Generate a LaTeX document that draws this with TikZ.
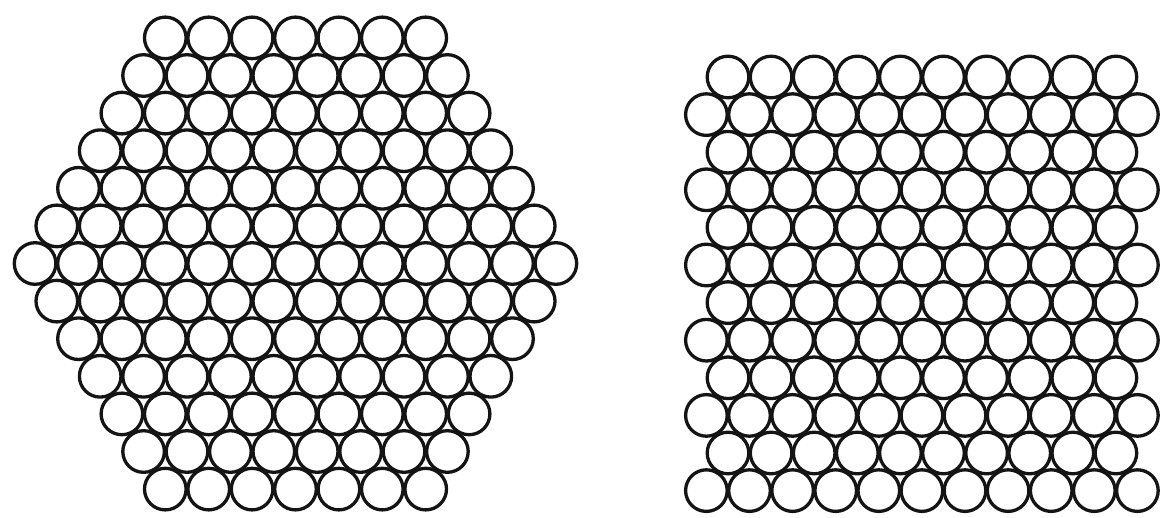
\documentclass[tikz,border=0pt]{standalone}
\usetikzlibrary{calc}
\definecolor{packInk}{HTML}{141414}
\definecolor{packPaper}{HTML}{FFFFFF}

\begin{document}
\begin{tikzpicture}[x=1pt,y=-1pt,line cap=round,line join=round]
\tikzset{ball/.style={draw=packInk,line width=3.3pt,fill=packPaper}}
\path[fill=packPaper] (0,0) rectangle (1161,517);
% hexagonal bundle
\foreach \r in {-6,...,6}{
  \pgfmathtruncatemacro\n{12-abs(\r)}
  \foreach \k in {0,...,\n}{
    \draw[ball] ({295.5+(\k-\n/2)*43.4},{263.5+\r*37.6}) circle (20.8);
  }
}
% rectangular bundle
\foreach \j in {0,...,11}{
  \pgfmathtruncatemacro\m{9+mod(\j,2)}
  \pgfmathsetmacro\xa{728-mod(\j,2)*21.6}
  \foreach \k in {0,...,\m}{
    \draw[ball] ({\xa+\k*43.1},{77+\j*37.6}) circle (20.8);
  }
}
\end{tikzpicture}
\end{document}
